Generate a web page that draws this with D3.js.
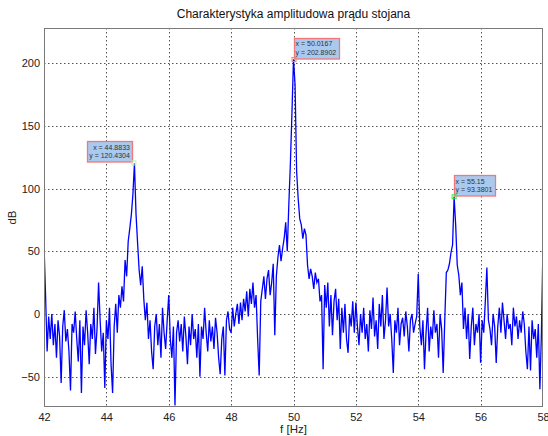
<!DOCTYPE html>
<html>
<head>
<meta charset="utf-8">
<script src="https://cdn.jsdelivr.net/npm/d3@7"></script>
<style>
  body { margin: 0; background: #fff; }
  text { font-family: "Liberation Sans", Arial, sans-serif; }
</style>
</head>
<body>
<div id="chart"></div>
<script>
// frequency grid of the spectrum (Hz)
var fStart = 42;
var fStep = 0.05;

// amplitude in dB, one value per fStep
var amplitude = [
  55, 15, -30, -2, -20, 0, -25, -8, -35, -5, -18, -55, -10, 3, -22, -12, -30, -61, -8, -15,
  2, -20, -38, -5, -63, -10, -25, 3, -15, -40, -8, -20, 5, -32, -12, 25, -5, -30, -15, -59,
  -5, -20, 5, -40, -63, -10, 8, -15, 15, 5, 22, 10, 43, 30, 58, 68, 79, 95, 120, 80,
  57, 35, 23, 38, 12, -5, 9, -20, -5, -30, -44, -10, 0, -25, -8, -35, 5, -15, -28, -5,
  15, -20, -35, -10, -73, -15, -5, -22, -8, -30, -2, -18, -40, -10, -25, 0, -20, -12, -35, -8,
  -50, -10, -20, 5, -15, -30, -5, -22, -10, -28, -3, -15, -35, -48, -20, -10, -49, -5, 2, -12,
  -15, 5, -10, 0, 8, -8, 9, -5, 12, 2, 18, -2, 20, 8, 25, 5, 15, -20, -49, 10,
  20, 30, 12, 28, 35, 15, 25, 40, -17, 30, 45, 55, 42, 52, 60, 73, 50, 87, 120, 160,
  203, 183, 114, 92, 76, 71, 60, 68, 63, 39, 28, 36, 30, 20, 33, 25, 28, 10, 15, -44,
  23, 5, 25, -10, 15, -17, 10, 20, -5, 12, -28, 5, -15, 8, -20, -31, 0, -10, 10, -15,
  9, -10, -25, 0, -15, 5, -20, -8, -30, 3, -12, 13, -18, -5, -28, 8, -10, 15, -20, -5,
  21, -10, 0, -20, -47, -5, -15, 5, -25, -8, -3, -18, 2, -10, -30, -5, 0, -15, -8, -2,
  32, -10, -25, -5, -44, -15, 5, -30, -10, -20, 3, -15, -8, -35, 0, -12, -47, -5, 33, 35,
  40, 49, 55, 93.38, 71, 39, 31, 15, 25, -12, 5, -20, 0, -36, -10, 5, -25, -8, -15, 0,
  -39, -5, -15, 10, 37, -5, -12, -25, 0, -10, -39, -10, 5, -15, 9, -5, -20, 0, -12, -8,
  -25, 5, -10, -2, -20, -5, -15, 2, -8, -30, -44, -10, -45, -5, -20, -12, -35, -8, -60, -15,
  55
];

// data tips
var tipX = [44.8833, 50.0167, 55.15];
var tipY = [120.4304, 202.8902, 93.3801];
var tipSide = ["left", "right", "right"];
var tipMarker = ["#b8f0b0", "#f08080", "#40e040"];

var xTicks = [42, 44, 46, 48, 50, 52, 54, 56, 58];
var yTicks = [-50, 0, 50, 100, 150, 200];

var width = 548, height = 436;
var padding = {left: 44, right: 5, top: 28, bottom: 29};

var svg = d3.select("#chart").append("svg")
  .attr("width", width)
  .attr("height", height);

var xScale = d3.scaleLinear()
  .domain([42, 58])
  .range([padding.left, width - padding.right]);

var yScale = d3.scaleLinear()
  .domain([-74.2, 228])
  .range([height - padding.bottom, padding.top]);

var points = amplitude.map(function(v, i){
  return [fStart + i * fStep, v];
});

// grid
svg.append("g")
  .selectAll("line")
  .data(xTicks.slice(1, -1))
  .enter().append("line")
  .attr("x1", function(d){ return Math.round(xScale(d)) + 0.5; })
  .attr("x2", function(d){ return Math.round(xScale(d)) + 0.5; })
  .attr("y1", padding.top)
  .attr("y2", height - padding.bottom)
  .attr("stroke", "#555")
  .attr("stroke-dasharray", "1.5,2.5");

svg.append("g")
  .selectAll("line")
  .data(yTicks)
  .enter().append("line")
  .attr("x1", padding.left)
  .attr("x2", width - padding.right)
  .attr("y1", function(d){ return Math.round(yScale(d)) + 0.5; })
  .attr("y2", function(d){ return Math.round(yScale(d)) + 0.5; })
  .attr("stroke", "#555")
  .attr("stroke-dasharray", "1.5,2.5");

svg.append("defs").append("clipPath")
  .attr("id", "plotClip")
  .append("rect")
  .attr("x", padding.left)
  .attr("y", padding.top)
  .attr("width", width - padding.left - padding.right)
  .attr("height", height - padding.top - padding.bottom);

var line = d3.line()
  .x(function(d){ return xScale(d[0]); })
  .y(function(d){ return yScale(d[1]); });

svg.append("path")
  .datum(points)
  .attr("clip-path", "url(#plotClip)")
  .attr("fill", "none")
  .attr("stroke", "#0000ff")
  .attr("stroke-width", 1.3)
  .attr("d", line);

// frame
svg.append("rect")
  .attr("x", padding.left + 0.5)
  .attr("y", padding.top + 0.5)
  .attr("width", width - padding.left - padding.right - 1)
  .attr("height", height - padding.top - padding.bottom - 1)
  .attr("fill", "none")
  .attr("stroke", "#7a7a7a");

// axes labels
var xAxis = d3.axisBottom(xScale).tickValues(xTicks).tickSize(0).tickPadding(6);
var gx = svg.append("g")
  .attr("transform", "translate(0," + (height - padding.bottom) + ")")
  .call(xAxis);
gx.select(".domain").remove();
gx.selectAll("text")
  .style("font-family", "Liberation Sans, Arial, sans-serif")
  .style("font-size", "11px")
  .attr("fill", "#222");

var yAxis = d3.axisLeft(yScale).tickValues(yTicks).tickSize(0).tickPadding(4);
var gy = svg.append("g")
  .attr("transform", "translate(" + padding.left + ",0)")
  .call(yAxis);
gy.select(".domain").remove();
gy.selectAll("text")
  .style("font-family", "Liberation Sans, Arial, sans-serif")
  .style("font-size", "11px")
  .attr("fill", "#222");

svg.append("text")
  .text("Charakterystyka amplitudowa prądu stojana")
  .attr("x", (padding.left + width - padding.right) / 2)
  .attr("y", 18)
  .attr("text-anchor", "middle")
  .style("font-size", "12px")
  .attr("fill", "#111");

svg.append("text")
  .text("f [Hz]")
  .attr("x", (padding.left + width - padding.right) / 2)
  .attr("y", 433)
  .attr("text-anchor", "middle")
  .style("font-size", "11.5px")
  .attr("fill", "#222");

svg.append("text")
  .text("dB")
  .attr("transform", "translate(16," + ((padding.top + height - padding.bottom) / 2) + ") rotate(-90)")
  .attr("text-anchor", "middle")
  .style("font-size", "11.5px")
  .attr("fill", "#222");

// data tips
var boxH = 20.5;
tipX.forEach(function(fx, i){
  var px = xScale(fx), py = yScale(tipY[i]);
  var g = svg.append("g");
  var box = g.append("rect");
  var t1 = g.append("text")
    .text("x = " + fx)
    .style("font-size", "7px")
    .attr("fill", "#333");
  var t2 = g.append("text")
    .text("y = " + tipY[i])
    .style("font-size", "7px")
    .attr("fill", "#333");
  var boxW = Math.max(t1.node().getComputedTextLength(), t2.node().getComputedTextLength()) + 4;
  var bx = tipSide[i] == "left" ? px - boxW - 2 : px - 0.5;
  var by = py - boxH - 1;
  var anchor = tipSide[i] == "left" ? "end" : "start";
  var tx = tipSide[i] == "left" ? bx + boxW - 2 : bx + 2;
  box.attr("x", Math.round(bx) + 0.5)
    .attr("y", Math.round(by) + 0.5)
    .attr("width", Math.round(boxW))
    .attr("height", boxH)
    .attr("fill", "#a9c9ef")
    .attr("stroke", "#f07878")
    .attr("stroke-width", 1.3);
  t1.attr("x", tx).attr("y", by + 8.5).attr("text-anchor", anchor);
  t2.attr("x", tx).attr("y", by + 17).attr("text-anchor", anchor);
  g.append("rect")
    .attr("x", px - 2)
    .attr("y", py - 2)
    .attr("width", 4)
    .attr("height", 4)
    .attr("fill", "none")
    .attr("stroke", tipMarker[i])
    .attr("stroke-width", 1);
});
</script>
</body>
</html>
